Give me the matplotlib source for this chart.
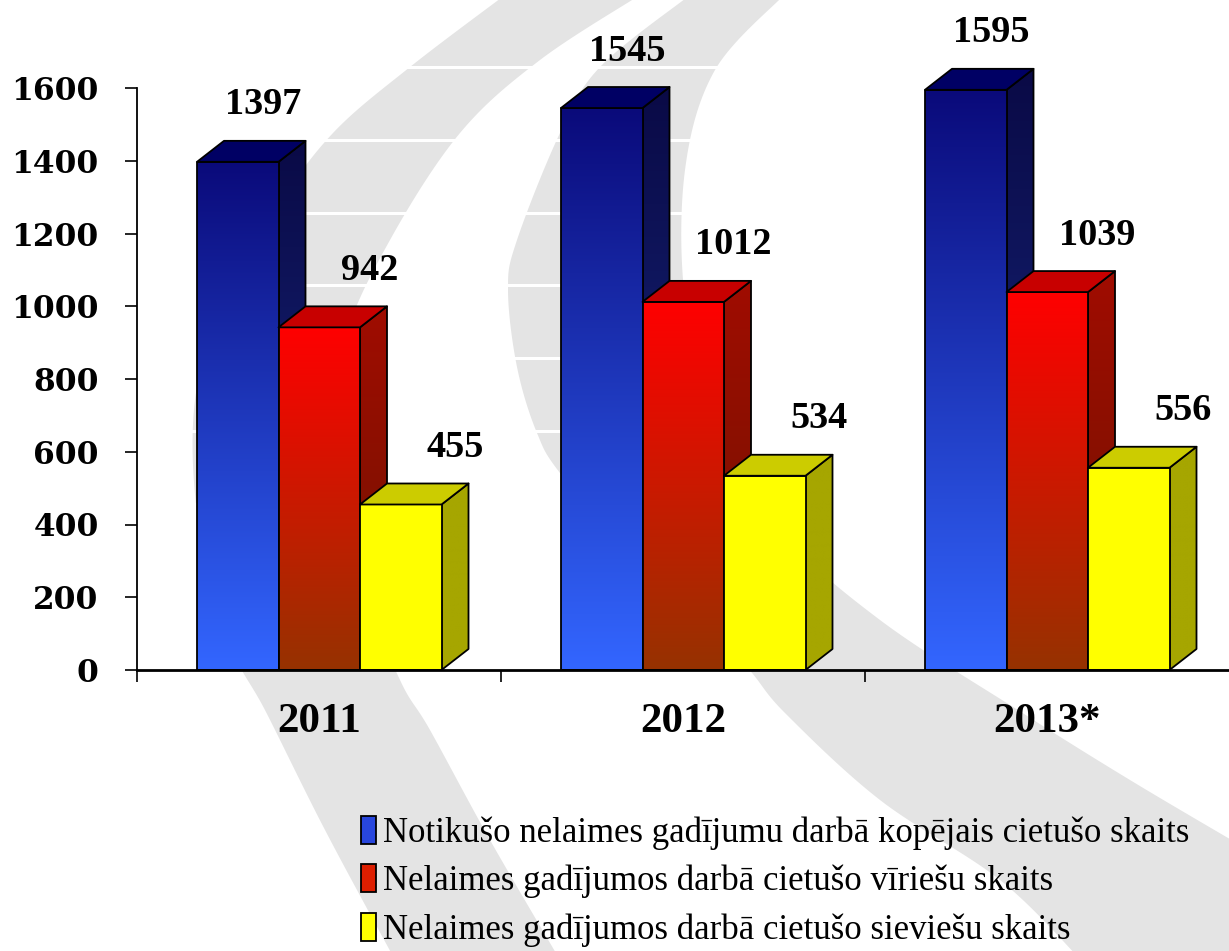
import numpy as np
import matplotlib
matplotlib.use("Agg")
import matplotlib.pyplot as plt
from matplotlib.patches import Polygon, Patch
import matplotlib.transforms as mtransforms

# ---------------- data ----------------
years = ["2011", "2012", "2013*"]
total_injured = [1397, 1545, 1595]
men_injured = [942, 1012, 1039]
women_injured = [455, 534, 556]
series_labels = [
    "Notikušo nelaimes gadījumu darbā kopējais cietušo skaits",
    "Nelaimes gadījumos darbā cietušo vīriešu skaits",
    "Nelaimes gadījumos darbā cietušo sieviešu skaits",
]
y_ticks = [0, 200, 400, 600, 800, 1000, 1200, 1400, 1600]

# ---------------- style ----------------
W, H = 1229, 951
SERIF = ["Liberation Serif", "DejaVu Serif"]
# (front top, front bottom, side top, side bottom, top face, legend)
styles = [
    ((10, 10, 122), (51, 102, 255), (10, 10, 70), (25, 45, 140), (0, 0, 100), (40, 70, 220)),
    ((255, 0, 0), (150, 50, 0), (160, 12, 0), (110, 20, 0), (200, 0, 0), (220, 30, 0)),
    ((255, 255, 0), (255, 255, 0), (166, 166, 0), (166, 166, 0), (204, 204, 0), (255, 255, 0)),
]
label_dx_px = [66, 91, 95]

fig = plt.figure(figsize=(W / 100, H / 100), dpi=100)
fig.patch.set_facecolor("white")

# ---------------- background swooshes (figure pixel space) ----------------
bg = fig.add_axes([0, 0, 1, 1], zorder=0)
bg.set_xlim(0, W)
bg.set_ylim(H, 0)
bg.axis("off")


def catmull(points, n=20):
    p = np.asarray(points, float)
    p = np.vstack([p[0], p, p[-1]])
    out = []
    for i in range(1, len(p) - 2):
        p0, p1, p2, p3 = p[i - 1], p[i], p[i + 1], p[i + 2]
        t = np.linspace(0, 1, n, endpoint=False)[:, None]
        seg = 0.5 * ((2 * p1) + (-p0 + p2) * t + (2 * p0 - 5 * p1 + 4 * p2 - p3) * t ** 2
                     + (-p0 + 3 * p1 - 3 * p2 + p3) * t ** 3)
        out.append(seg)
    out.append(p[-2][None, :])
    return np.vstack(out)


bandA_left = [(505, -5), (410, 67), (333, 133), (275, 210), (225, 300), (195, 400), (198, 520),
              (228, 640), (266, 712), (325, 830), (395, 960)]
bandA_right = [(640, -5), (540, 60), (460, 133), (390, 240), (345, 340), (335, 450), (360, 580),
               (400, 680), (430, 730), (490, 840), (560, 960)]
bandB_left = [(690, -5), (600, 67), (560, 133), (517, 240), (508, 290), (517, 367), (537, 433),
              (563, 477), (650, 580), (740, 660), (784, 712), (880, 800), (1000, 880), (1081, 960)]
bandB_right = [(784, -5), (715, 70), (685, 170), (685, 300), (715, 420), (780, 530), (880, 620),
               (1021, 712), (1130, 780), (1240, 845)]
band_color = "#e4e4e4"
for le, ri, extra in [(bandA_left, bandA_right, []), (bandB_left, bandB_right, [(1240, 960)])]:
    L = catmull(le)
    R = catmull(ri)
    poly = np.vstack([L, np.array(extra).reshape(-1, 2), R[::-1]])
    bg.add_patch(Polygon(poly, closed=True, facecolor=band_color, edgecolor="none"))

# ---------------- main axes ----------------
px_per_val = (670 - 88) / 1600.0
ymax = 670 / px_per_val
ax = fig.add_axes([137 / W, (H - 670) / H, 1092 / W, 670 / H], zorder=1)
ax.patch.set_alpha(0)
px_per_cat = 1092 / 3.0
depth_x = 27 / px_per_cat
depth_y = 21 / px_per_val
group_off = 60 / px_per_cat
bar_w = 81.5 / px_per_cat

# white back-wall gridlines
for v in y_ticks[1:]:
    ax.plot([depth_x, 3], [v + depth_y, v + depth_y], color="white", lw=2.2, zorder=1,
            solid_capstyle="butt")


def grad_img(c_top, c_bot):
    t = np.linspace(0, 1, 256)[:, None, None]
    a = np.array(c_top, float)[None, None, :] / 255
    b = np.array(c_bot, float)[None, None, :] / 255
    return a * (1 - t) + b * t


z = [2.0]


def shade_poly(verts, c_top, c_bot):
    verts = np.asarray(verts)
    clip = Polygon(verts, closed=True, transform=ax.transData)
    x0, x1 = verts[:, 0].min(), verts[:, 0].max()
    y0, y1 = verts[:, 1].min(), verts[:, 1].max()
    im = ax.imshow(grad_img(c_top, c_bot), extent=(x0, x1, y0, y1), origin="upper",
                   aspect="auto", interpolation="bilinear", zorder=z[0])
    im.set_clip_path(clip)
    z[0] += 0.001
    ax.add_patch(Polygon(verts, closed=True, facecolor="none", edgecolor="black", lw=1.3,
                         zorder=z[0], joinstyle="round"))
    z[0] += 0.001


def draw_bar(x0, h, st):
    ft, fb, stp, sbt, topc, _ = st
    x1 = x0 + bar_w
    front = [(x0, 0), (x1, 0), (x1, h), (x0, h)]
    side = [(x1, 0), (x1 + depth_x, depth_y), (x1 + depth_x, h + depth_y), (x1, h)]
    top = [(x0, h), (x0 + depth_x, h + depth_y), (x1 + depth_x, h + depth_y), (x1, h)]
    shade_poly(side, stp, sbt)
    shade_poly(front, ft, fb)
    ax.add_patch(Polygon(top, closed=True, facecolor=np.array(topc) / 255, edgecolor="black",
                         lw=1.3, zorder=z[0], joinstyle="round"))
    z[0] += 0.001


all_series = [total_injured, men_injured, women_injured]
for gi in range(len(years)):
    for si, series in enumerate(all_series):
        x0 = gi + group_off + si * bar_w
        val = series[gi]
        draw_bar(x0, val, styles[si])
        tr = mtransforms.offset_copy(ax.transData, fig=fig, x=label_dx_px[si], y=57, units="dots")
        ax.text(x0, val, f"{val}", transform=tr, ha="center", va="center",
                fontsize=27.5, fontweight="bold", family=SERIF, zorder=10)

ax.set_xlim(0, 3)
ax.set_ylim(0, ymax)

# axes styling
for s in ["top", "right"]:
    ax.spines[s].set_visible(False)
ax.spines["left"].set_bounds(0, 1600)
ax.spines["left"].set_linewidth(1.3)
ax.spines["bottom"].set_linewidth(2.0)
ax.spines["left"].set_zorder(20)
ax.spines["bottom"].set_zorder(20)

ax.set_yticks(y_ticks)
ax.set_yticklabels([str(v) for v in y_ticks], fontsize=22.5, fontweight="bold",
                   family=["DejaVu Serif"])
ax.tick_params(axis="y", direction="out", length=8.6, width=1.2, pad=19)

ax.set_xticks([0, 1, 2])
ax.set_xticklabels([])
ax.set_xticks([0.5, 1.5, 2.5], minor=True)
ax.set_xticklabels(years, minor=True, fontsize=31, fontweight="bold", family=SERIF)
ax.tick_params(axis="x", which="major", direction="out", length=8.6, width=1.2)
ax.tick_params(axis="x", which="minor", length=0, pad=24)

# legend
handles = [Patch(facecolor=np.array(st[5]) / 255, edgecolor="black", lw=1.3) for st in styles]
leg = fig.legend(handles, series_labels, loc="upper left", bbox_to_anchor=(361 / W, 1 - 816 / H),
                 frameon=False, prop={"family": SERIF, "size": 25}, handlelength=0.42,
                 handleheight=0.85, handletextpad=0.22, labelspacing=0.42, borderaxespad=0,
                 borderpad=0)

fig.savefig("out.png", dpi=100, facecolor="white")
